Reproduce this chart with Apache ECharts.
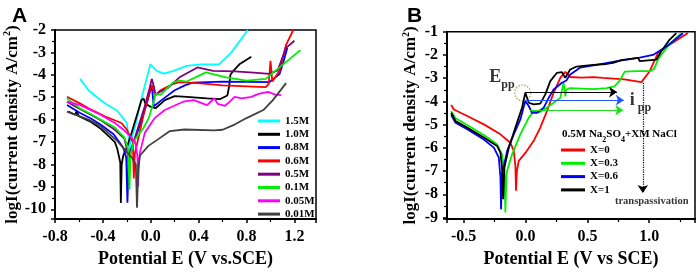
<!DOCTYPE html>
<html><head><meta charset="utf-8">
<script src="https://cdn.jsdelivr.net/npm/echarts@6/dist/echarts.min.js"></script>
<style>html,body{margin:0;padding:0;background:#fff}#c{width:699px;height:273px}</style>
</head><body><div id="c"></div>
<script>
// ---------- Panel A data ----------
const namesA = ['1.5M','1.0M','0.8M','0.6M','0.5M','0.1M','0.05M','0.01M'];
const a15 = [[-0.59,-4.18],[-0.52,-4.69],[-0.45,-5.0],[-0.38,-5.28],[-0.28,-5.6],[-0.2,-6.15],[-0.185,-6.8],[-0.178,-7.5],[-0.17,-7.0],[-0.13,-6.3],[-0.08,-5.1],[-0.003,-3.53],[0.05,-3.82],[0.11,-3.95],[0.19,-3.82],[0.3,-3.6],[0.42,-3.53],[0.57,-3.53],[0.67,-3.02],[0.75,-2.44],[0.81,-2.0]];
const a10 = [[-0.69,-5.64],[-0.63,-5.78],[-0.62,-5.62],[-0.6,-5.85],[-0.5,-6.1],[-0.42,-6.4],[-0.35,-6.75],[-0.3,-7.0],[-0.28,-7.3],[-0.255,-7.9],[-0.25,-9.72],[-0.243,-8.0],[-0.23,-7.6],[-0.2,-7.24],[-0.16,-6.58],[-0.078,-5.13],[-0.06,-5.06],[-0.045,-5.28],[-0.003,-5.42],[0.04,-5.49],[0.117,-5.13],[0.2,-4.95],[0.3,-4.98],[0.47,-5.05],[0.58,-5.08],[0.64,-4.92],[0.655,-4.5],[0.665,-4.0],[0.69,-3.82],[0.74,-3.53],[0.84,-3.19]];
const a08 = [[-0.70,-5.35],[-0.59,-5.7],[-0.5,-5.95],[-0.42,-6.22],[-0.31,-6.65],[-0.23,-7.24],[-0.205,-7.7],[-0.195,-9.71],[-0.185,-8.0],[-0.17,-7.38],[-0.087,-6.2],[-0.03,-5.2],[0.008,-4.47],[0.025,-5.4],[0.09,-5.13],[0.2,-4.69],[0.285,-4.47],[0.35,-4.35],[0.6,-4.3],[0.99,-4.33],[1.075,-3.97],[1.11,-3.38],[1.14,-2.8]];
const a06 = [[-0.70,-4.98],[-0.6,-5.25],[-0.52,-5.49],[-0.38,-5.86],[-0.245,-6.15],[-0.2,-6.44],[-0.15,-7.0],[-0.142,-8.62],[-0.133,-7.5],[-0.115,-7.1],[-0.06,-5.78],[-0.017,-4.91],[0.006,-4.45],[0.02,-4.65],[0.04,-4.9],[0.08,-4.69],[0.19,-4.4],[0.24,-4.33],[0.42,-4.38],[0.6,-4.47],[0.96,-4.55],[0.985,-4.4],[1.0,-3.38],[1.015,-4.3],[1.03,-4.3],[1.075,-3.82],[1.13,-2.66],[1.19,-2.0]];
const a05 = [[-0.70,-5.2],[-0.6,-5.5],[-0.5,-5.78],[-0.42,-6.02],[-0.3,-6.45],[-0.22,-6.85],[-0.195,-7.4],[-0.185,-8.4],[-0.175,-7.6],[-0.12,-6.6],[-0.05,-5.4],[-0.01,-4.6],[0.008,-4.18],[0.025,-4.5],[0.04,-4.9],[0.08,-4.75],[0.14,-4.6],[0.24,-4.11],[0.39,-3.67],[0.52,-3.82],[0.7,-3.85],[0.86,-3.9],[0.99,-3.96],[1.06,-3.8],[1.13,-2.8],[1.2,-2.48]];
const a01 = [[-0.70,-5.05],[-0.59,-5.5],[-0.5,-5.75],[-0.42,-6.0],[-0.3,-6.35],[-0.22,-6.8],[-0.19,-7.3],[-0.178,-9.13],[-0.17,-7.6],[-0.14,-6.95],[-0.06,-6.36],[-0.017,-5.93],[0.025,-5.2],[0.04,-4.84],[0.08,-4.9],[0.19,-4.33],[0.24,-4.26],[0.3,-4.3],[0.46,-3.89],[0.63,-4.11],[0.8,-4.26],[0.96,-4.18],[1.075,-3.67],[1.25,-2.9]];
const a005 = [[-0.70,-5.2],[-0.59,-5.35],[-0.42,-5.78],[-0.3,-6.15],[-0.23,-6.44],[-0.16,-6.8],[-0.13,-7.0],[-0.112,-7.6],[-0.106,-8.99],[-0.098,-7.8],[-0.09,-7.46],[-0.05,-6.59],[0.033,-5.93],[0.117,-5.57],[0.27,-5.2],[0.36,-5.13],[0.42,-5.25],[0.47,-5.35],[0.5,-5.2],[0.53,-5.05],[0.56,-5.3],[0.62,-5.38],[0.66,-5.2],[0.7,-4.98],[0.76,-5.05],[0.84,-4.98],[0.9,-4.85],[0.98,-4.76],[1.04,-4.88],[1.09,-4.91]];
const a001 = [[-0.70,-5.64],[-0.52,-6.0],[-0.42,-6.29],[-0.28,-6.95],[-0.2,-7.45],[-0.16,-7.67],[-0.125,-8.0],[-0.115,-9.93],[-0.105,-8.2],[-0.09,-7.6],[-0.02,-7.17],[0.06,-6.88],[0.16,-6.51],[0.28,-6.44],[0.53,-6.48],[0.6,-6.45],[0.7,-6.22],[0.8,-5.93],[0.94,-5.57],[1.02,-5.13],[1.13,-4.37]];

// ---------- Panel B data ----------
const namesB = ['X=0','X=0.3','X=0.6','X=1'];
const b0 = [[-0.601,-4.16],[-0.579,-4.35],[-0.472,-4.63],[-0.337,-4.99],[-0.203,-5.42],[-0.123,-5.78],[-0.095,-6.13],[-0.082,-6.8],[-0.077,-7.85],[-0.07,-7.0],[-0.055,-6.56],[0.0,-6.21],[0.066,-5.7],[0.119,-5.13],[0.173,-4.42],[0.227,-3.63],[0.281,-2.99],[0.321,-2.73],[0.361,-2.95],[0.45,-2.98],[0.55,-2.96],[0.627,-2.99],[0.8,-3.05],[0.937,-3.17],[1.004,-2.7],[1.071,-1.91],[1.165,-1.56],[1.24,-1.3],[1.313,-1.06]];
const b03 = [[-0.601,-4.42],[-0.566,-4.73],[-0.472,-5.02],[-0.337,-5.45],[-0.23,-5.85],[-0.19,-6.28],[-0.171,-6.99],[-0.163,-8.78],[-0.155,-7.2],[-0.149,-6.99],[-0.109,-6.28],[-0.042,-5.42],[0.026,-4.7],[0.066,-4.42],[0.106,-4.49],[0.173,-4.27],[0.227,-4.06],[0.281,-3.85],[0.308,-3.2],[0.318,-3.2],[0.322,-3.79],[0.328,-3.5],[0.359,-3.43],[0.547,-3.47],[0.655,-3.43],[0.72,-3.35],[0.762,-3.1],[0.802,-2.72],[0.9,-2.7],[1.004,-2.7],[1.04,-2.6],[1.071,-2.2],[1.139,-1.7],[1.2,-1.35],[1.26,-1.06]];
const b06 = [[-0.601,-4.59],[-0.566,-4.92],[-0.472,-5.2],[-0.337,-5.64],[-0.256,-5.99],[-0.216,-6.42],[-0.203,-7.28],[-0.198,-8.64],[-0.19,-7.14],[-0.149,-6.13],[-0.095,-5.42],[-0.042,-4.78],[-0.002,-3.99],[0.026,-4.2],[0.052,-4.49],[0.093,-4.49],[0.147,-4.27],[0.187,-3.85],[0.227,-3.49],[0.294,-3.2],[0.33,-3.1],[0.359,-2.85],[0.44,-2.55],[0.574,-2.43],[0.762,-2.25],[0.923,-2.12],[1.03,-2.0],[1.139,-1.64],[1.273,-1.07]];
const b1 = [[-0.601,-4.49],[-0.566,-4.85],[-0.472,-5.13],[-0.337,-5.56],[-0.23,-5.92],[-0.203,-6.21],[-0.19,-6.85],[-0.181,-8.21],[-0.171,-6.85],[-0.135,-5.99],[-0.082,-5.13],[-0.028,-4.27],[-0.002,-3.63],[0.026,-4.06],[0.066,-4.13],[0.119,-4.1],[0.16,-3.7],[0.2,-3.13],[0.254,-2.77],[0.294,-2.74],[0.321,-2.99],[0.361,-2.63],[0.413,-2.5],[0.547,-2.43],[0.655,-2.39],[0.708,-2.34],[0.776,-2.22],[0.79,-2.3],[0.91,-2.13],[0.923,-2.27],[1.058,-2.2],[1.098,-1.84],[1.165,-1.34],[1.219,-1.06]];

// annotations (data coordinates of panel B)
const arrowBlack = [[-0.002,-3.6],[0.74,-3.6]];
const arrowBlue = [[0.0,-3.95],[0.795,-3.95]];
const arrowGreen = [[0.036,-4.38],[0.79,-4.38]];
const transLine = [[0.948,-3.2],[0.948,-7.95]];
const eppCircle = [-0.023,-3.64];
const eppPos = [-0.19,-3.07];
const ippPos = [0.93,-4.06];
const transPos = [1.02,-8.3];

// ---------- chart ----------
const SERIF = 'Liberation Serif';
const colA = ['#00FFFF','#000000','#0000FF','#FF0000','#800080','#00EE00','#FF00FF','#404040'];
const colB = ['#FF0000','#00EE00','#0000FF','#000000'];
const dataA = [a15,a10,a08,a06,a05,a01,a005,a001];
const dataB = [b0,b03,b06,b1];

function xAx(grid, min, max, opts, showMin, name, gap){
  return Object.assign({
    type:'value', gridIndex:grid, min:min, max:max,
    axisLine:{onZero:false, lineStyle:{color:'#000', width:2}},
    axisTick:{inside:false, length:4, lineStyle:{color:'#000', width:1.5}},
    minorTick:{show:true, splitNumber:2, length:3, lineStyle:{color:'#000', width:1.2}},
    splitLine:{show:false}, minorSplitLine:{show:false},
    axisLabel:{color:'#000', fontFamily:SERIF, fontWeight:'bold', fontSize:16, margin:10,
      showMinLabel:showMin, showMaxLabel:false, formatter:v=>v.toFixed(1)},
    name:name, nameLocation:'middle', nameGap:gap,
    nameTextStyle:{color:'#000', fontFamily:SERIF, fontWeight:'bold', fontSize:18}
  }, opts);
}
function yAx(grid, min, max, gap){
  return {
    type:'value', gridIndex:grid, min:min, max:max, minInterval:1, maxInterval:1,
    axisLine:{onZero:false, lineStyle:{color:'#000', width:2}},
    axisTick:{inside:false, length:4, lineStyle:{color:'#000', width:1.5}},
    minorTick:{show:true, splitNumber:2, length:3, lineStyle:{color:'#000', width:1.2}},
    splitLine:{show:false}, minorSplitLine:{show:false},
    axisLabel:{color:'#000', fontFamily:SERIF, fontWeight:'bold', fontSize:16, margin:9,
      showMinLabel:false, formatter:v=>String(Math.round(v))},
    name:'{a|logI(current density A/cm}{p|2}{a|)}', nameLocation:'middle', nameGap:gap,
    nameTextStyle:{rich:{
      a:{color:'#000', fontFamily:SERIF, fontWeight:'bold', fontSize:17, lineHeight:18, verticalAlign:'bottom'},
      p:{color:'#000', fontFamily:SERIF, fontWeight:'bold', fontSize:10, lineHeight:10, verticalAlign:'top'}
    }}
  };
}

const series = [];
dataA.forEach((d,i)=>series.push({name:namesA[i], type:'line', xAxisIndex:0, yAxisIndex:0, data:d,
  symbol:'none', showSymbol:false, lineStyle:{width:1.8, color:colA[i]}, itemStyle:{color:colA[i]}, animation:false}));
dataB.forEach((d,i)=>series.push({name:namesB[i], type:'line', xAxisIndex:1, yAxisIndex:1, data:d,
  symbol:'none', showSymbol:false, lineStyle:{width:1.8, color:colB[i]}, itemStyle:{color:colB[i]}, animation:false}));

const subRich = {
  e:{fontFamily:SERIF, fontWeight:'bold', fontSize:18, color:'#000', lineHeight:18, verticalAlign:'top'},
  i:{fontFamily:SERIF, fontWeight:'bold', fontSize:18, color:'#000', lineHeight:18, verticalAlign:'top'},
  s:{fontFamily:SERIF, fontWeight:'bold', fontSize:12, color:'#000', lineHeight:12, verticalAlign:'bottom'},
  g:{fontSize:1, lineHeight:22},
  t:{fontFamily:SERIF, fontWeight:'bold', fontSize:10.5, color:'#000'}
};
function arrow(p, color, type){
  return [{coord:p[0], lineStyle:{color:color, width:1.2, type:type||'solid'}, itemStyle:{color:color}},
          {coord:p[1], itemStyle:{color:color}}];
}
series.push({
  name:'annot', type:'scatter', xAxisIndex:1, yAxisIndex:1, symbolSize:0, silent:true, animation:false,
  data:[
    {value:eppPos, label:{show:true, position:'inside', formatter:'{e|E}{s|pp}{g| }', rich:subRich}},
    {value:ippPos, label:{show:true, position:'inside', formatter:'{i|i}{s| pp}{g| }', rich:subRich}},
    {value:transPos, label:{show:true, position:'inside', formatter:'{t|transpassivation}', rich:subRich}}
  ],
  markLine:{silent:true, animation:false, symbol:['none','arrow'], symbolSize:8, label:{show:false},
    emphasis:{disabled:true},
    data:[arrow(arrowBlack,'#000'), arrow(arrowBlue,'#2255FF'), arrow(arrowGreen,'#22DD22'), arrow(transLine,'#000','dotted')]}
});
series.push({
  name:'circle', type:'scatter', xAxisIndex:1, yAxisIndex:1, silent:true, animation:false,
  symbol:'circle', symbolSize:16, data:[eppCircle],
  itemStyle:{color:'rgba(0,0,0,0)', borderColor:'#A8905C', borderWidth:1.5, borderType:'dotted'}
});

const legText = {fontFamily:SERIF, fontWeight:'bold', fontSize:11, color:'#000', lineHeight:13};
const option = {
  backgroundColor:'#fff',
  animation:false,
  title:[
    {text:'A', left:7, top:1, textStyle:{fontFamily:'Liberation Sans', fontWeight:'bold', fontSize:21, color:'#000'}},
    {text:'B', left:402, top:1, textStyle:{fontFamily:'Liberation Sans', fontWeight:'bold', fontSize:21, color:'#000'}},
    {text:'{t|0.5M Na}{s|2}{t|SO}{s|4}{t|+XM NaCl}{g| }', left:557, top:124,
      textStyle:{rich:{
        t:{fontFamily:SERIF, fontWeight:'bold', fontSize:11, color:'#000', lineHeight:12, verticalAlign:'top'},
        s:{fontFamily:SERIF, fontWeight:'bold', fontSize:8, color:'#000', lineHeight:8, verticalAlign:'bottom'},
        g:{fontSize:1, lineHeight:15}
      }}}
  ],
  grid:[
    {left:55, top:30, width:261, height:193.3, show:true, borderColor:'#000', borderWidth:1.5, backgroundColor:'#fff'},
    {left:447, top:31.7, width:248, height:188.3, show:true, borderColor:'#000', borderWidth:1.5, backgroundColor:'#fff'}
  ],
  xAxis:[
    xAx(0, -0.8, 1.38, {interval:0.4}, true, 'Potential E (V vs.SCE)', 29),
    xAx(1, -0.635, 1.37, {minInterval:0.5, maxInterval:0.5}, false, 'Potential E (V vs SCE)', 26)
  ],
  yAxis:[ yAx(0, -10.437, -2, 33), yAx(1, -9.07, -1, 28) ],
  legend:[
    {orient:'vertical', left:253, top:109.5, itemWidth:22, itemHeight:3, itemGap:0.3, icon:'rect',
      data:namesA, textStyle:legText, selectedMode:false},
    {orient:'vertical', left:556, top:138.5, itemWidth:24, itemHeight:3, itemGap:0.3, icon:'rect',
      data:namesB, textStyle:legText, selectedMode:false}
  ],
  series:series
};
const chart = echarts.init(document.getElementById('c'), null, {renderer:'canvas'});
chart.setOption(option);
</script></body></html>
